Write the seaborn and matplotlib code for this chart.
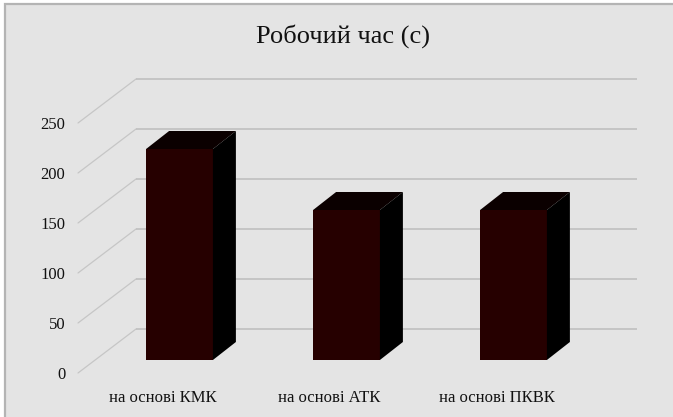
import matplotlib
matplotlib.use("Agg")
import matplotlib.pyplot as plt
from matplotlib.patches import Rectangle
from matplotlib.transforms import Affine2D
import pandas as pd
import seaborn as sns

# Chart data
categories = ["на основі КМК", "на основі АТК", "на основі ПКВК"]
work_time = [211, 150, 150]
y_ticks = [0, 50, 100, 150, 200, 250]

FIG_W, FIG_H = 673, 417
sns.set_style("white")
plt.rcParams["font.family"] = ["Liberation Serif", "DejaVu Serif"]

fig = plt.figure(figsize=(FIG_W / 100, FIG_H / 100), dpi=100, facecolor="white")

# Chart panel with a grey border on the left and top; it runs past the other two edges
fig.add_artist(Rectangle((5 / FIG_W, -0.1), 1, 1.1 - 4 / FIG_H, transform=fig.transFigure,
                         facecolor="#e4e4e4", edgecolor="#b4b4b4", linewidth=1.6,
                         zorder=0))

# One value unit spans one pixel; each category spans 167 pixels
ax = fig.add_axes([96 / FIG_W, (FIG_H - 360) / FIG_H, 501 / FIG_W, 250 / FIG_H])
ax.set_zorder(2)
ax.patch.set_alpha(0)

frame = pd.DataFrame({"method": categories, "time": work_time})
sns.barplot(data=frame, x="method", y="time", color="#260000", width=0.4,
            saturation=1, ax=ax, zorder=3, edgecolor="none", linewidth=0)
ax.set_xlim(-0.5, 2.5)
ax.set_ylim(0, 250)
ax.set_xlabel("")
ax.set_ylabel("")

# Oblique projection: depth offsets in data units
unit_x = 167.0
front_dx, front_dy = -18 / unit_x, -13
back_dx, back_dy = 40 / unit_x, 31
bar_dx, bar_dy = 23 / unit_x, 18

# Side wall and back wall gridlines
for v in y_ticks:
    ax.plot([-0.5 + front_dx, -0.5 + back_dx], [v + front_dy, v + back_dy],
            color="#c6c6c6", lw=0.9, clip_on=False, zorder=1)
    ax.plot([-0.5 + back_dx, 2.5 + back_dx], [v + back_dy, v + back_dy],
            color="#bcbcbc", lw=1.1, clip_on=False, zorder=1,
            solid_capstyle="butt")

# Top and side faces of every bar, built from the bars seaborn drew
for bar in list(ax.patches):
    x0, w, h = bar.get_x(), bar.get_width(), bar.get_height()
    x1 = x0 + w
    ax.fill([x0, x0 + bar_dx, x1 + bar_dx, x1], [h, h + bar_dy, h + bar_dy, h],
            color="#0b0000", lw=0, clip_on=False, zorder=3)
    ax.fill([x1, x1 + bar_dx, x1 + bar_dx, x1], [0, bar_dy, h + bar_dy, h],
            color="#000000", lw=0, clip_on=False, zorder=3)

for s in ax.spines.values():
    s.set_visible(False)

ax.set_yticks(y_ticks)
ax.tick_params(axis="both", length=0, labelsize=12, labelcolor="#111111")
ax.tick_params(axis="y", pad=22)
ax.tick_params(axis="x", pad=21.5)

# Tick labels sit on the front edge of the floor
y_shift = Affine2D().translate(0, -13)
x_shift = Affine2D().translate(-17, 0)
for lab in ax.get_yticklabels():
    lab.set_transform(lab.get_transform() + y_shift)
for lab in ax.get_xticklabels():
    lab.set_transform(lab.get_transform() + x_shift)

ax.set_title("Робочий час (с)", fontsize=19, color="#111111", x=0.494, pad=48.5)

fig.savefig("out.png", dpi=100)
